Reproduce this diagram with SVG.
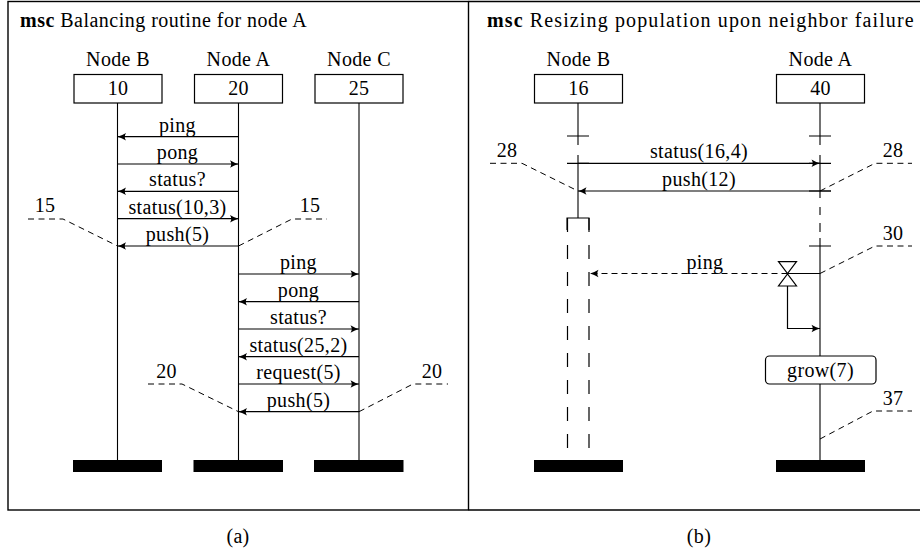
<svg xmlns="http://www.w3.org/2000/svg" width="920" height="551" viewBox="0 0 920 551">
<style>
text{font-family:"Liberation Serif","Times New Roman",serif;font-size:20px;letter-spacing:0.35px;fill:#000}
.m{text-anchor:middle}
.b{font-weight:bold}
.frame{fill:none;stroke:#000;stroke-width:1.4}
.box{fill:#fff;stroke:#000;stroke-width:1.2}
.life{stroke:#000;stroke-width:1.1;fill:none}
.msg{stroke:#000;stroke-width:1.2;fill:none;marker-end:url(#ah)}
.dmsg{stroke:#000;stroke-width:1.2;fill:none;stroke-dasharray:6 4;marker-end:url(#ah)}
.cond{stroke:#000;stroke-width:1;fill:none;stroke-dasharray:6 4.5}
.tick{stroke:#000;stroke-width:1.2}
.end{fill:#000}
.dead{stroke:#000;stroke-width:1.2;fill:none;stroke-dasharray:14 13}
</style>
<defs>
<marker id="ah" markerUnits="userSpaceOnUse" markerWidth="12" markerHeight="10" viewBox="-10 -5 12 10" refX="0" refY="0" orient="auto">
<path d="M-8.5,-3.8 Q-4,-1 0,0 Q-4,1 -8.5,3.8 Q-6,0 -8.5,-3.8 Z" fill="#000"/>
</marker>
</defs>
<rect width="920" height="551" fill="#fff"/>

<!-- frames -->
<g id="frames">
<rect class="frame" x="8" y="1.5" width="460.5" height="508.5"/>
<path class="frame" d="M468.5,1.5 H922 M468.5,510 H922"/>
<text x="20" y="27" textLength="287" lengthAdjust="spacing"><tspan class="b">msc</tspan> Balancing routine for node A</text>
<text x="487" y="27" textLength="427" lengthAdjust="spacing"><tspan class="b">msc</tspan> Resizing population upon neighbor failure</text>
<text class="m" x="238" y="543">(a)</text>
<text class="m" x="699" y="543">(b)</text>
</g>

<!-- panel (a) nodes -->
<g id="a-nodeB">
<text class="m" x="118" y="66">Node B</text>
<rect class="box" x="74" y="74.5" width="88" height="28.5"/>
<text class="m" x="118" y="95">10</text>
<line class="life" x1="117.5" y1="103" x2="117.5" y2="460"/>
<rect class="end" x="73" y="460" width="89" height="12"/>
</g>
<g id="a-nodeA">
<text class="m" x="238.5" y="66">Node A</text>
<rect class="box" x="194.5" y="74.5" width="88" height="28.5"/>
<text class="m" x="238.5" y="95">20</text>
<line class="life" x1="238.5" y1="103" x2="238.5" y2="460"/>
<rect class="end" x="193.5" y="460" width="89.5" height="12"/>
</g>
<g id="a-nodeC">
<text class="m" x="359" y="66">Node C</text>
<rect class="box" x="315" y="74.5" width="88" height="28.5"/>
<text class="m" x="359" y="95">25</text>
<line class="life" x1="359" y1="103" x2="359" y2="460"/>
<rect class="end" x="314" y="460" width="89.5" height="12"/>
</g>

<!-- panel (b) nodes -->
<g id="b-nodeB">
<text class="m" x="578.5" y="66">Node B</text>
<rect class="box" x="534.5" y="74.5" width="88" height="28.5"/>
<text class="m" x="578.5" y="95">16</text>
<path class="life" d="M578,103 V145 M578,155 V218"/>
<path class="life" d="M567,230 V218 H589 V230"/>
<path class="dead" d="M567.5,218 V460 M589,218 V460"/>
<rect class="end" x="534" y="460" width="89" height="12"/>
</g>
<g id="b-nodeA">
<text class="m" x="820.5" y="66">Node A</text>
<rect class="box" x="776.5" y="74.5" width="88" height="28.5"/>
<text class="m" x="820.5" y="95">40</text>
<path class="life" d="M820,103 V145 M820,155 V198 M820,207 V215 M820,223 V232 M820,238 V356 M820,384 V460"/>
<rect class="end" x="776" y="460" width="89" height="12"/>
</g>
<g id="b-ticks">
<path class="tick" d="M567,136 H589 M809,136 H831 M567,163.3 H589 M809,163.3 H831 M809,191 H831 M809,246 H831"/>
</g>
<g id="b-timer">
<path d="M778.5,261.7 H796.5 L787.5,273.5 Z M778.5,286 H796.5 L787.5,274 Z" fill="#fff" stroke="#000" stroke-width="1.2"/>
<line x1="787.5" y1="273.5" x2="820" y2="273.5" stroke="#000" stroke-width="1.2"/>
</g>
<g id="b-grow">
<rect class="box" x="765.5" y="356" width="110.5" height="28" rx="4"/>
<text class="m" x="820.5" y="377">grow(7)</text>
</g>

<!-- connectors -->
<g id="connectors">
<!-- panel a -->
<line class="msg" x1="238.5" y1="136.7" x2="117.5" y2="136.7"/>
<line class="msg" x1="117.5" y1="164" x2="238.5" y2="164"/>
<line class="msg" x1="238.5" y1="191.3" x2="117.5" y2="191.3"/>
<line class="msg" x1="117.5" y1="218.7" x2="238.5" y2="218.7"/>
<line class="msg" x1="238.5" y1="246" x2="117.5" y2="246"/>
<line class="msg" x1="238.5" y1="274" x2="359" y2="274"/>
<line class="msg" x1="359" y1="301.7" x2="238.5" y2="301.7"/>
<line class="msg" x1="238.5" y1="329" x2="359" y2="329"/>
<line class="msg" x1="359" y1="356.7" x2="238.5" y2="356.7"/>
<line class="msg" x1="238.5" y1="384" x2="359" y2="384"/>
<line class="msg" x1="359" y1="411.7" x2="238.5" y2="411.7"/>
<path class="cond" d="M28,219 H63 L117.5,246"/>
<path class="cond" d="M238.5,246 L292,219 H327"/>
<path class="cond" d="M148,384 H182 L238.5,411.7"/>
<path class="cond" d="M359,411.7 L413,384 H448"/>
<!-- panel b -->
<line class="msg" x1="578" y1="163.3" x2="820" y2="163.3"/>
<line class="msg" x1="831" y1="191" x2="578" y2="191"/>
<line class="dmsg" x1="787.5" y1="273.5" x2="590" y2="273.5"/>
<path class="msg" d="M787.5,286 V328.5 H820"/>
<path class="cond" d="M490,163.3 H522 L578,191"/>
<path class="cond" d="M820,191 L875,163.3 H912"/>
<path class="cond" d="M820,273.5 L875,246 H912"/>
<path class="cond" d="M820,439 L873,411 H912"/>
</g>

<!-- labels -->
<g id="labels">
<text class="m" x="177.5" y="131.5">ping</text>
<text class="m" x="177.5" y="159">pong</text>
<text class="m" x="177.5" y="186.3">status?</text>
<text class="m" x="177.5" y="213.7">status(10,3)</text>
<text class="m" x="177.5" y="241">push(5)</text>
<text class="m" x="298.5" y="269">ping</text>
<text class="m" x="298.5" y="296.7">pong</text>
<text class="m" x="298.5" y="324">status?</text>
<text class="m" x="298.5" y="351.7">status(25,2)</text>
<text class="m" x="298.5" y="379">request(5)</text>
<text class="m" x="298.5" y="406.7">push(5)</text>
<text class="m" x="45" y="211.5">15</text>
<text class="m" x="310" y="211.5">15</text>
<text class="m" x="166.5" y="377.5">20</text>
<text class="m" x="432" y="377.5">20</text>
<text class="m" x="699" y="158">status(16,4)</text>
<text class="m" x="699" y="186">push(12)</text>
<text class="m" x="705" y="269">ping</text>
<text class="m" x="507" y="157">28</text>
<text class="m" x="893" y="157">28</text>
<text class="m" x="893" y="240">30</text>
<text class="m" x="893" y="405">37</text>
</g>
</svg>
